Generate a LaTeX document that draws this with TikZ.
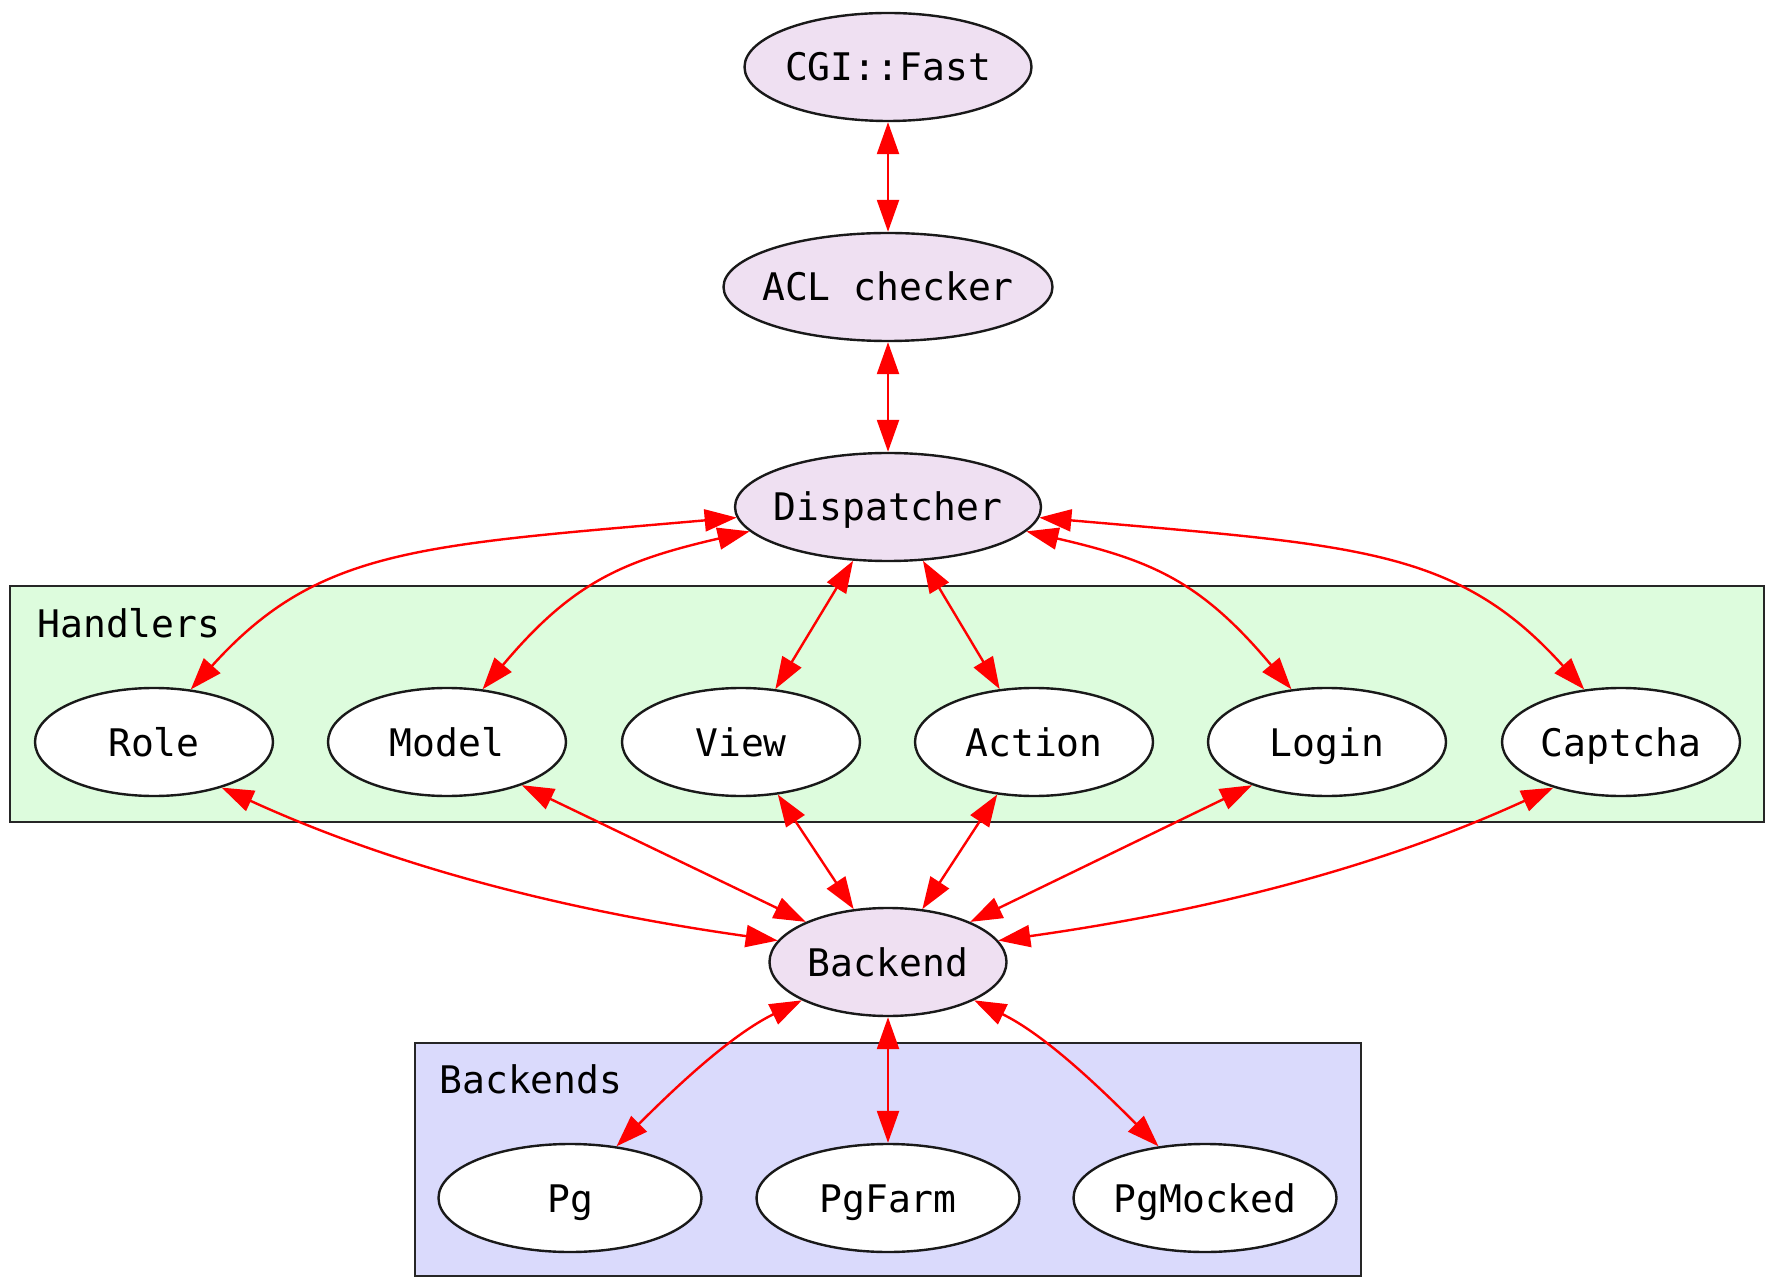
\documentclass[tikz,border=0pt]{standalone}
\usepackage{fontspec}
\newfontfamily\dvmono{DejaVu Sans Mono}
\usetikzlibrary{shapes.geometric,arrows.meta}
\definecolor{corefill}{RGB}{239,224,242}
\definecolor{hfill}{RGB}{221,252,221}
\definecolor{bfill}{RGB}{218,218,252}
\begin{document}
\begin{tikzpicture}[x=0.5pt,y=0.5pt,
  base/.style={ellipse, draw=black!90, line width=1.2pt, inner xsep=-40pt, inner ysep=0pt,
    minimum height=54pt, font=\dvmono\fontsize{19}{23}\selectfont, text height=18pt, text depth=4pt},
  core/.style={base, fill=corefill},
  leaf/.style={base, fill=white},
  grp/.style={draw=black!85, line width=1.4pt},
  grplabel/.style={anchor=base west, inner sep=0pt, font=\dvmono\fontsize{19}{23}\selectfont},
  link/.style={red, line width=1.2pt, {Triangle[length=16pt,width=11pt]}-{Triangle[length=16pt,width=11pt]}}
]
\useasboundingbox (0,0) rectangle (1771,-1277);
\fill[white] (0,0) rectangle (1771,-1277);
% clusters
\filldraw[grp, fill=hfill] (10,-586) rectangle (1764,-822);
\filldraw[grp, fill=bfill] (415,-1043) rectangle (1361,-1276);
\node[grplabel] (hlabel) at (37,-638) {Handlers};
\node[grplabel] (blabel) at (439,-1093) {Backends};
% nodes
\node[core, minimum width=143.5pt] (cgi) at (888,-67) {CGI::Fast};
\node[core, minimum width=164.5pt] (acl) at (888,-287) {ACL checker};
\node[core, minimum width=153pt] (disp) at (888,-507) {Dispatcher};
\node[leaf, minimum width=119pt] (role) at (154,-742) {Role};
\node[leaf, minimum width=119pt] (model) at (447,-742) {Model};
\node[leaf, minimum width=119pt] (view) at (741,-742) {View};
\node[leaf, minimum width=119pt] (action) at (1034,-742) {Action};
\node[leaf, minimum width=119pt] (login) at (1327,-742) {Login};
\node[leaf, minimum width=119pt] (captcha) at (1621,-742) {Captcha};
\node[core, minimum width=118.5pt] (backend) at (888,-962) {Backend};
\node[leaf, minimum width=131.5pt] (pg) at (570,-1198) {Pg};
\node[leaf, minimum width=131.5pt] (pgfarm) at (888,-1198) {PgFarm};
\node[leaf, minimum width=131.5pt] (pgmocked) at (1205,-1198) {PgMocked};
% edges
\draw[link] (cgi) -- (acl);
\draw[link] (acl) -- (disp);
\draw[link] (disp.184) .. controls +(185:320) and +(48:190) .. (role.55);
\draw[link] (disp.190) .. controls +(193:130) and +(50:140) .. (model.56);
\draw[link] (disp.237) -- (view.57);
\draw[link] (disp.303) -- (action.123);
\draw[link] (disp.350) .. controls +(-13:130) and +(130:140) .. (login.124);
\draw[link] (disp.356) .. controls +(-5:320) and +(132:190) .. (captcha.125);
\draw[link] (role.326) .. controls +(-24.6:200) and +(172:200) .. (backend.169);
\draw[link] (model.330) -- (backend.154);
\draw[link] (view.305) -- (backend.123);
\draw[link] (action.235) -- (backend.57);
\draw[link] (login.210) -- (backend.26);
\draw[link] (captcha.214) .. controls +(204.6:200) and +(8:200) .. (backend.11);
\draw[link] (backend.204) .. controls +(206:80) and +(45:80) .. (pg.48);
\draw[link] (backend) -- (pgfarm);
\draw[link] (backend.336) .. controls +(-26:80) and +(135:80) .. (pgmocked.132);
\end{tikzpicture}
\end{document}
